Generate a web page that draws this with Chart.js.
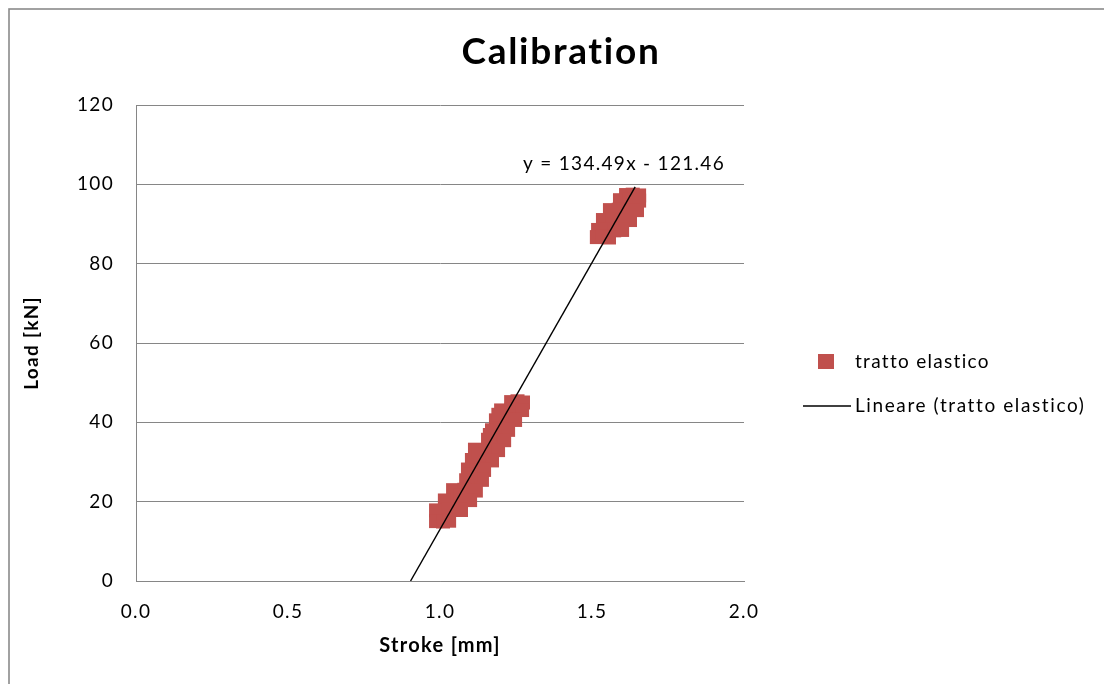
<!DOCTYPE html>
<html>
<head>
<meta charset="utf-8">
<script src="https://cdn.jsdelivr.net/npm/chart.js@4/dist/chart.umd.min.js"></script>
<style>
  html, body { margin: 0; padding: 0; background: #ffffff; }
  #wrap { width: 1104px; height: 684px; position: relative; }
</style>
</head>
<body>
<div id="wrap"><canvas id="c" width="1104" height="684"></canvas></div>
<script>
// Calibration test: load vs stroke, elastic segment only
const chartTitle = 'Calibration';
const seriesLabel = 'tratto elastico';
const trendLabel = 'Lineare (tratto elastico)';
const xAxisTitle = 'Stroke [mm]';
const yAxisTitle = 'Load [kN]';

const strokeMm = [
  1.234, 1.255, 1.273, 1.201, 1.235, 1.270, 1.184, 1.215, 1.247,
  1.171, 1.198, 1.224, 1.158, 1.185, 1.211, 1.115, 1.150, 1.191,
  1.105, 1.138, 1.171, 1.092, 1.120, 1.145, 1.086, 1.112, 1.138,
  1.043, 1.080, 1.118, 1.016, 1.057, 1.099, 0.987, 1.028, 1.069,
  0.987, 1.010, 1.030, 1.128, 1.100, 1.066, 1.164, 1.192,
  1.612, 1.634, 1.655, 1.592, 1.624, 1.655, 1.559, 1.588, 1.618, 1.648,
  1.536, 1.566, 1.596, 1.625, 1.520, 1.546, 1.573, 1.599, 1.516, 1.536, 1.556
];
const loadKN = [
  45.1, 45.3, 45.0, 43.0, 43.2, 43.1, 40.5, 40.8, 40.6,
  38.0, 38.2, 38.1, 35.6, 35.4, 35.5, 33.1, 32.9, 33.0,
  30.5, 30.6, 30.4, 28.1, 27.9, 28.0, 25.4, 25.6, 25.5,
  22.9, 23.0, 22.8, 20.3, 20.5, 20.4, 17.8, 18.0, 17.9,
  15.1, 15.0, 15.2, 31.8, 26.8, 21.6, 36.8, 41.9,
  97.3, 97.4, 97.2, 96.0, 96.1, 95.9, 93.5, 93.6, 93.4, 93.5,
  91.0, 91.1, 90.9, 91.0, 88.5, 88.6, 88.4, 88.5, 86.7, 86.8, 86.6
];

// Linear trendline as reported by the equation label
const trendSlope = 134.49;
const trendIntercept = -121.46;
const trendX = [0.9031, 1.642];
const trendEquation = 'y = 134.49x - 121.46';

const xTickValues = [0.0, 0.5, 1.0, 1.5, 2.0];
const yTickValues = [0, 20, 40, 60, 80, 100, 120];

const markerColor = '#C0504D';
const gridColor = '#868686';
const textColor = '#000000';
const FONT = 'Lato, "Open Sans", sans-serif';
const TEXT_SPACING = '1.3px';

const points = strokeMm.map((x, i) => ({ x, y: loadKN[i] }));
const trendPoints = trendX.map(x => ({ x, y: trendSlope * x + trendIntercept }));

const decor = {
  id: 'decor',
  beforeDraw(chart) {
    const ctx = chart.ctx;
    ctx.save();
    ctx.fillStyle = '#ffffff';
    ctx.fillRect(0, 0, chart.width, chart.height);
    ctx.restore();
    // slightly open tracking for every label drawn on this canvas
    ctx.letterSpacing = TEXT_SPACING;
  },
  afterDraw(chart) {
    const ctx = chart.ctx;
    ctx.save();
    ctx.letterSpacing = TEXT_SPACING;
    // outer chart frame
    ctx.strokeStyle = '#8a8a8a';
    ctx.lineWidth = 1.6;
    ctx.strokeRect(9, 9, 1400, 1400);

    // title
    ctx.fillStyle = textColor;
    ctx.font = 'bold 37px ' + FONT;
    ctx.letterSpacing = '1.7px';
    ctx.textAlign = 'center';
    ctx.textBaseline = 'middle';
    ctx.fillText(chartTitle, 561, 52);
    ctx.letterSpacing = TEXT_SPACING;

    // trendline equation
    ctx.font = '19px ' + FONT;
    ctx.textAlign = 'left';
    ctx.fillText(trendEquation, 523, 164);

    // legend
    const ds = chart.data.datasets;
    ctx.font = '19px ' + FONT;
    ctx.fillStyle = ds[0].backgroundColor;
    ctx.fillRect(818, 354, 16, 15);
    ctx.strokeStyle = ds[1].borderColor;
    ctx.lineWidth = 1.5;
    ctx.beginPath();
    ctx.moveTo(803, 406);
    ctx.lineTo(851, 406);
    ctx.stroke();
    ctx.fillStyle = textColor;
    ctx.fillText(ds[0].label, 855, 362);
    ctx.letterSpacing = '1.6px';
    ctx.fillText(ds[1].label, 855, 406);
    ctx.restore();
  }
};

new Chart(document.getElementById('c'), {
  type: 'scatter',
  data: {
    datasets: [
      {
        label: seriesLabel,
        data: points,
        pointStyle: 'rect',
        pointRadius: 9.9,
        pointHoverRadius: 9.9,
        backgroundColor: markerColor,
        borderColor: markerColor,
        borderWidth: 0,
        showLine: false,
        order: 2
      },
      {
        label: trendLabel,
        data: trendPoints,
        type: 'line',
        showLine: true,
        borderColor: '#000000',
        backgroundColor: '#000000',
        borderWidth: 1.4,
        pointRadius: 0,
        fill: false,
        order: 1
      }
    ]
  },
  options: {
    responsive: false,
    animation: false,
    events: [],
    layout: { padding: { left: 18, right: 360, top: 105, bottom: 0 } },
    plugins: {
      legend: { display: false },
      title: { display: false },
      tooltip: { enabled: false }
    },
    scales: {
      x: {
        type: 'linear',
        min: 0,
        max: 2,
        afterFit(scale) { scale.height = 103; },
        afterBuildTicks(scale) { scale.ticks = xTickValues.map(v => ({ value: v })); },
        ticks: {
          padding: 19,
          color: textColor,
          font: { family: FONT, size: 19 },
          callback: v => Number(v).toFixed(1)
        },
        grid: { display: false, drawTicks: false },
        border: { display: true, color: gridColor, width: 1 },
        title: {
          display: true,
          text: xAxisTitle,
          color: textColor,
          font: { family: FONT, size: 20, weight: 'bold' },
          padding: { top: 0, bottom: 26 }
        }
      },
      y: {
        type: 'linear',
        min: 0,
        max: 120,
        afterFit(scale) { scale.width = 118; },
        afterBuildTicks(scale) { scale.ticks = yTickValues.map(v => ({ value: v })); },
        ticks: {
          padding: 22,
          color: textColor,
          font: { family: FONT, size: 19 },
          callback: v => String(v)
        },
        grid: { display: true, color: gridColor, lineWidth: 1, drawTicks: false },
        border: { display: true, color: gridColor, width: 1 },
        title: {
          display: true,
          text: yAxisTitle,
          color: textColor,
          font: { family: FONT, size: 19, weight: 'bold' },
          padding: { top: 2, bottom: 0 }
        }
      }
    }
  },
  plugins: [decor]
});
</script>
</body>
</html>
